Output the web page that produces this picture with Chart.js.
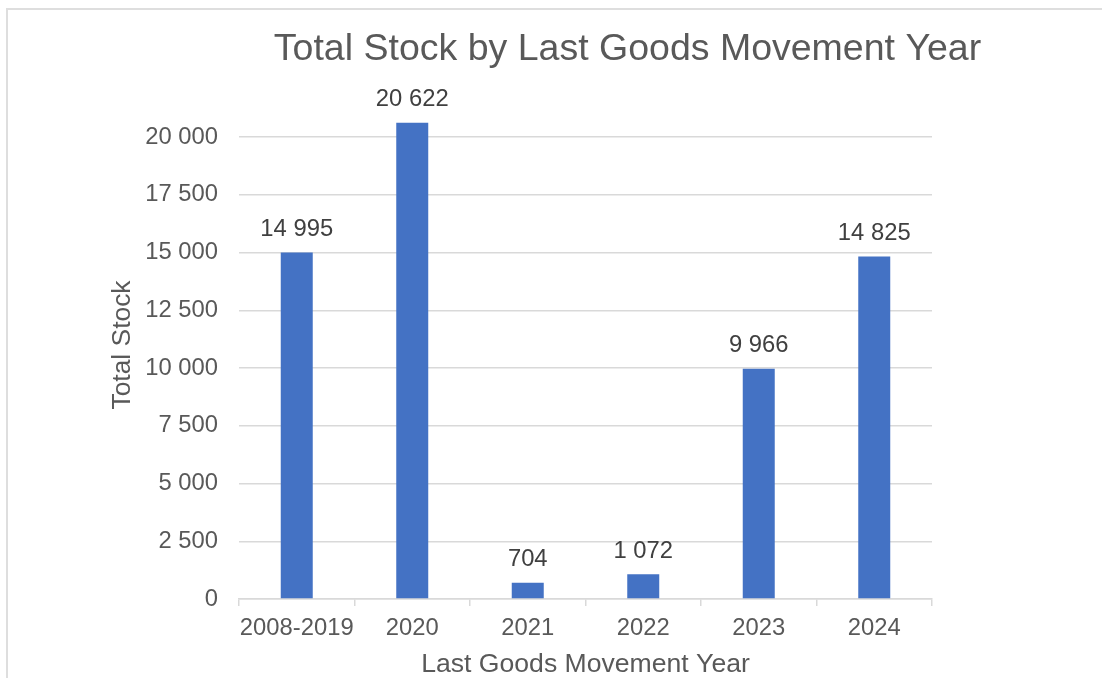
<!DOCTYPE html>
<html>
<head>
<meta charset="utf-8">
<title>Total Stock by Last Goods Movement Year</title>
<script src="https://cdn.jsdelivr.net/npm/chart.js@4.4.1/dist/chart.umd.min.js"></script>
<style>
  html, body { margin: 0; padding: 0; background: #fff; overflow: hidden; }
  #frame { position: absolute; left: 6px; top: 8px; width: 1300px; height: 800px; border: 2px solid #dedede; }
  #stockChart { position: absolute; left: 0; top: 0; }
</style>
</head>
<body>
<div id="frame"></div>
<canvas id="stockChart" width="1241" height="700"></canvas>
<script>
const years = ['2008-2019', '2020', '2021', '2022', '2023', '2024'];
const totalStock = [14995, 20622, 704, 1072, 9966, 14825];
const yMax = 20000;
const yStep = 2500;

const FONT = "'Liberation Sans', Arial, sans-serif";
const TEXT_GREY = '#595959';
const LINE_GREY = '#d9d9d9';

// 20622 -> "20 622"
function fmtNumber(v) {
  return String(v).replace(/\B(?=(\d{3})+(?!\d))/g, ' ');
}

// value labels above each bar
const barLabels = {
  id: 'barLabels',
  afterDatasetsDraw(chart) {
    const ctx = chart.ctx;
    const values = chart.data.datasets[0].data;
    ctx.save();
    ctx.font = `23.8px ${FONT}`;
    ctx.fillStyle = '#404040';
    ctx.textAlign = 'center';
    ctx.textBaseline = 'alphabetic';
    chart.getDatasetMeta(0).data.forEach((bar, i) => {
      ctx.fillText(fmtNumber(values[i]), bar.x, bar.y - 16.5);
    });
    ctx.restore();
  }
};

// chart title (centred on the whole frame, not the plot) and rotated y-axis title
const titles = {
  id: 'titles',
  afterDraw(chart) {
    const ctx = chart.ctx;
    ctx.save();
    ctx.fillStyle = TEXT_GREY;
    ctx.textAlign = 'center';

    ctx.font = `37.5px ${FONT}`;
    ctx.textBaseline = 'alphabetic';
    ctx.fillText('Total Stock by Last Goods Movement Year', 627.5, 60);

    ctx.translate(123, 345);
    ctx.rotate(-Math.PI / 2);
    ctx.font = `26.4px ${FONT}`;
    ctx.textBaseline = 'middle';
    ctx.fillText('Total Stock', 0, 0);
    ctx.restore();
  }
};

new Chart(document.getElementById('stockChart'), {
  type: 'bar',
  data: {
    labels: years,
    datasets: [{
      data: totalStock,
      backgroundColor: '#4472C4',
      categoryPercentage: 1,
      barPercentage: 0.277,
      clip: false
    }]
  },
  options: {
    responsive: false,
    animation: false,
    devicePixelRatio: 1,
    layout: { padding: { left: 0, right: 309, top: 137, bottom: 0 } },
    plugins: {
      legend: { display: false },
      tooltip: { enabled: false },
      title: { display: false }
    },
    scales: {
      x: {
        grid: { drawOnChartArea: false, drawTicks: true, tickLength: 7, color: LINE_GREY, lineWidth: 1.5, offset: true },
        border: { display: true, color: LINE_GREY, width: 1.5 },
        ticks: { color: TEXT_GREY, font: { family: FONT, size: 23.8 }, padding: 8, maxRotation: 0, autoSkip: false },
        title: {
          display: true,
          text: 'Last Goods Movement Year',
          color: TEXT_GREY,
          font: { family: FONT, size: 26.6 },
          padding: { top: 0, bottom: 19 }
        },
        afterFit(scale) { scale.height = 101; }
      },
      y: {
        min: 0,
        max: yMax,
        grid: { color: LINE_GREY, lineWidth: 1.5, drawTicks: false },
        border: { display: false },
        ticks: {
          stepSize: yStep,
          color: TEXT_GREY,
          font: { family: FONT, size: 23.8 },
          padding: 21,
          callback: v => fmtNumber(v)
        },
        afterFit(scale) { scale.width = 239; }
      }
    }
  },
  plugins: [barLabels, titles]
});
</script>
</body>
</html>
